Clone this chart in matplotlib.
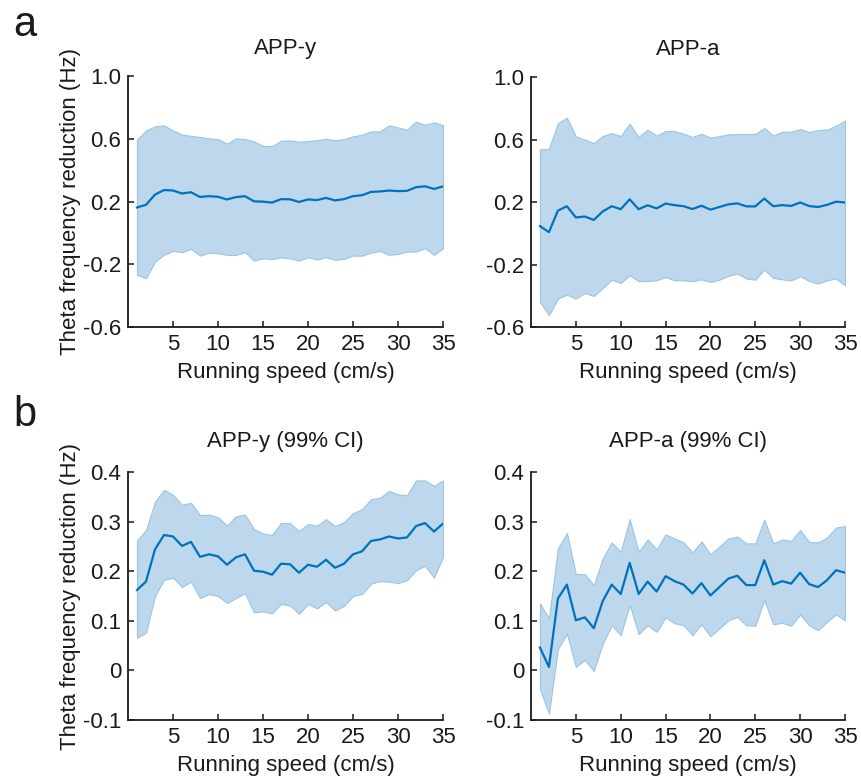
import numpy as np
import matplotlib
matplotlib.use("Agg")
import matplotlib.pyplot as plt

plt.rcParams['font.family'] = ['Liberation Sans', 'DejaVu Sans']

speed = list(range(1, 36))

mean_y = [0.162, 0.179, 0.244, 0.273, 0.270, 0.251, 0.259, 0.229, 0.234, 0.230,
          0.213, 0.228, 0.234, 0.201, 0.199, 0.193, 0.215, 0.214, 0.197, 0.213,
          0.209, 0.223, 0.207, 0.215, 0.234, 0.240, 0.261, 0.264, 0.270, 0.266,
          0.268, 0.291, 0.297, 0.280, 0.296]
mean_a = [0.046, 0.007, 0.145, 0.173, 0.101, 0.107, 0.085, 0.140, 0.173, 0.154,
          0.217, 0.154, 0.179, 0.159, 0.190, 0.180, 0.173, 0.155, 0.176, 0.151,
          0.168, 0.185, 0.191, 0.172, 0.172, 0.222, 0.173, 0.180, 0.175, 0.197,
          0.174, 0.168, 0.182, 0.202, 0.197]

# row a: wide band
sd_y_hi = [0.594, 0.653, 0.679, 0.685, 0.653, 0.626, 0.619, 0.611, 0.602, 0.598,
           0.568, 0.602, 0.598, 0.583, 0.555, 0.553, 0.587, 0.589, 0.581, 0.585,
           0.591, 0.600, 0.591, 0.598, 0.615, 0.626, 0.647, 0.647, 0.685, 0.672,
           0.657, 0.709, 0.689, 0.704, 0.687]
sd_y_lo = [-0.268, -0.289, -0.183, -0.140, -0.115, -0.123, -0.102, -0.145, -0.126, -0.130,
           -0.140, -0.140, -0.123, -0.177, -0.162, -0.166, -0.157, -0.162, -0.177, -0.155,
           -0.170, -0.155, -0.172, -0.166, -0.145, -0.145, -0.126, -0.115, -0.140, -0.134,
           -0.119, -0.119, -0.098, -0.140, -0.098]
sd_a_hi = [0.537, 0.541, 0.705, 0.739, 0.620, 0.599, 0.577, 0.622, 0.641, 0.622,
           0.701, 0.616, 0.663, 0.624, 0.654, 0.654, 0.637, 0.616, 0.637, 0.612,
           0.622, 0.633, 0.635, 0.635, 0.635, 0.673, 0.626, 0.650, 0.650, 0.667,
           0.648, 0.661, 0.663, 0.688, 0.722]
sd_a_lo = [-0.440, -0.525, -0.418, -0.393, -0.418, -0.382, -0.401, -0.350, -0.297, -0.318,
           -0.269, -0.307, -0.305, -0.301, -0.280, -0.301, -0.301, -0.307, -0.295, -0.312,
           -0.297, -0.273, -0.258, -0.290, -0.297, -0.233, -0.286, -0.295, -0.301, -0.275,
           -0.305, -0.322, -0.301, -0.290, -0.333]

# row b: 99% CI
ci_y_hi = [0.262, 0.283, 0.340, 0.364, 0.354, 0.334, 0.338, 0.313, 0.314, 0.309,
           0.292, 0.311, 0.314, 0.285, 0.276, 0.273, 0.297, 0.297, 0.281, 0.295,
           0.292, 0.305, 0.291, 0.299, 0.317, 0.325, 0.345, 0.348, 0.362, 0.355,
           0.353, 0.383, 0.383, 0.372, 0.383]
ci_y_lo = [0.066, 0.076, 0.150, 0.183, 0.187, 0.168, 0.179, 0.146, 0.154, 0.150,
           0.136, 0.146, 0.156, 0.117, 0.119, 0.115, 0.134, 0.131, 0.114, 0.134,
           0.125, 0.138, 0.121, 0.130, 0.150, 0.154, 0.175, 0.180, 0.179, 0.176,
           0.182, 0.202, 0.211, 0.187, 0.229]
ci_a_hi = [0.135, 0.105, 0.246, 0.277, 0.194, 0.194, 0.172, 0.226, 0.258, 0.239,
           0.305, 0.239, 0.264, 0.244, 0.274, 0.266, 0.258, 0.238, 0.260, 0.234,
           0.250, 0.266, 0.270, 0.256, 0.256, 0.304, 0.256, 0.264, 0.261, 0.283,
           0.259, 0.258, 0.268, 0.288, 0.291]
ci_a_lo = [-0.038, -0.087, 0.043, 0.074, 0.007, 0.021, -0.001, 0.054, 0.091, 0.071,
           0.132, 0.073, 0.091, 0.078, 0.107, 0.095, 0.091, 0.071, 0.093, 0.069,
           0.085, 0.101, 0.108, 0.091, 0.090, 0.142, 0.093, 0.096, 0.090, 0.113,
           0.091, 0.081, 0.098, 0.113, 0.101]

titles = ["APP-y", "APP-a", "APP-y (99% CI)", "APP-a (99% CI)"]
xticks = [5, 10, 15, 20, 25, 30, 35]
yticks_a = [-0.6, -0.2, 0.2, 0.6, 1.0]
ytick_labels_a = ["-0.6", "-0.2", "0.2", "0.6", "1.0"]
yticks_b = [-0.1, 0, 0.1, 0.2, 0.3, 0.4]
ytick_labels_b = ["-0.1", "0", "0.1", "0.2", "0.3", "0.4"]
xlabel = "Running speed (cm/s)"
ylabel = "Theta frequency reduction (Hz)"

line_color = "#0072BD"
fill_color = "#BDD8EC"
fs = 16
txt = "#1a1a1a"

fig = plt.figure(figsize=(8.62, 7.8), dpi=100)
W, H = 862, 780

def make_ax(l, r, t, b):
    return fig.add_axes([l / W, 1 - b / H, (r - l) / W, (b - t) / H])

panels = [
    (make_ax(128, 443, 76, 327), mean_y, sd_y_lo, sd_y_hi, titles[0], yticks_a, ytick_labels_a, (-0.6, 1.0), True, 16),
    (make_ax(531, 845, 77, 327), mean_a, sd_a_lo, sd_a_hi, titles[1], yticks_a, ytick_labels_a, (-0.6, 1.0), False, 16),
    (make_ax(128, 443, 472, 720), mean_y, ci_y_lo, ci_y_hi, titles[2], yticks_b, ytick_labels_b, (-0.1, 0.4), True, 18),
    (make_ax(531, 845, 472, 720), mean_a, ci_a_lo, ci_a_hi, titles[3], yticks_b, ytick_labels_b, (-0.1, 0.4), False, 18),
]

for ax, m, lo, hi, title, yt, ytl, ylim, show_ylabel, tpad in panels:
    ax.fill_between(speed, lo, hi, facecolor=fill_color, edgecolor="#9CC4E4", linewidth=0.8, zorder=1)
    ax.plot(speed, m, color=line_color, linewidth=1.6, zorder=2)
    ax.set_xlim(0, 35)
    ax.set_ylim(*ylim)
    ax.set_xticks(xticks)
    ax.set_xticklabels([str(v) for v in xticks])
    ax.set_yticks(yt)
    ax.set_yticklabels(ytl)
    for s in ("top", "right"):
        ax.spines[s].set_visible(False)
    for s in ("left", "bottom"):
        ax.spines[s].set_linewidth(1.3)
        ax.spines[s].set_color(txt)
    ax.tick_params(direction="in", length=4, width=1.1, labelsize=fs, colors=txt, pad=5)
    ax.set_title(title, fontsize=fs, pad=tpad, color=txt)
    ax.set_xlabel(xlabel, fontsize=fs, labelpad=5, color=txt)
    if show_ylabel:
        ax.set_ylabel(ylabel, fontsize=fs, labelpad=1.5, color=txt)

fig.text(25 / W, 1 - 25 / H, "a", fontsize=30, ha="center", va="center", color=txt)
fig.text(25 / W, 1 - 415 / H, "b", fontsize=30, ha="center", va="center", color=txt)

fig.savefig("out.png", dpi=100)
